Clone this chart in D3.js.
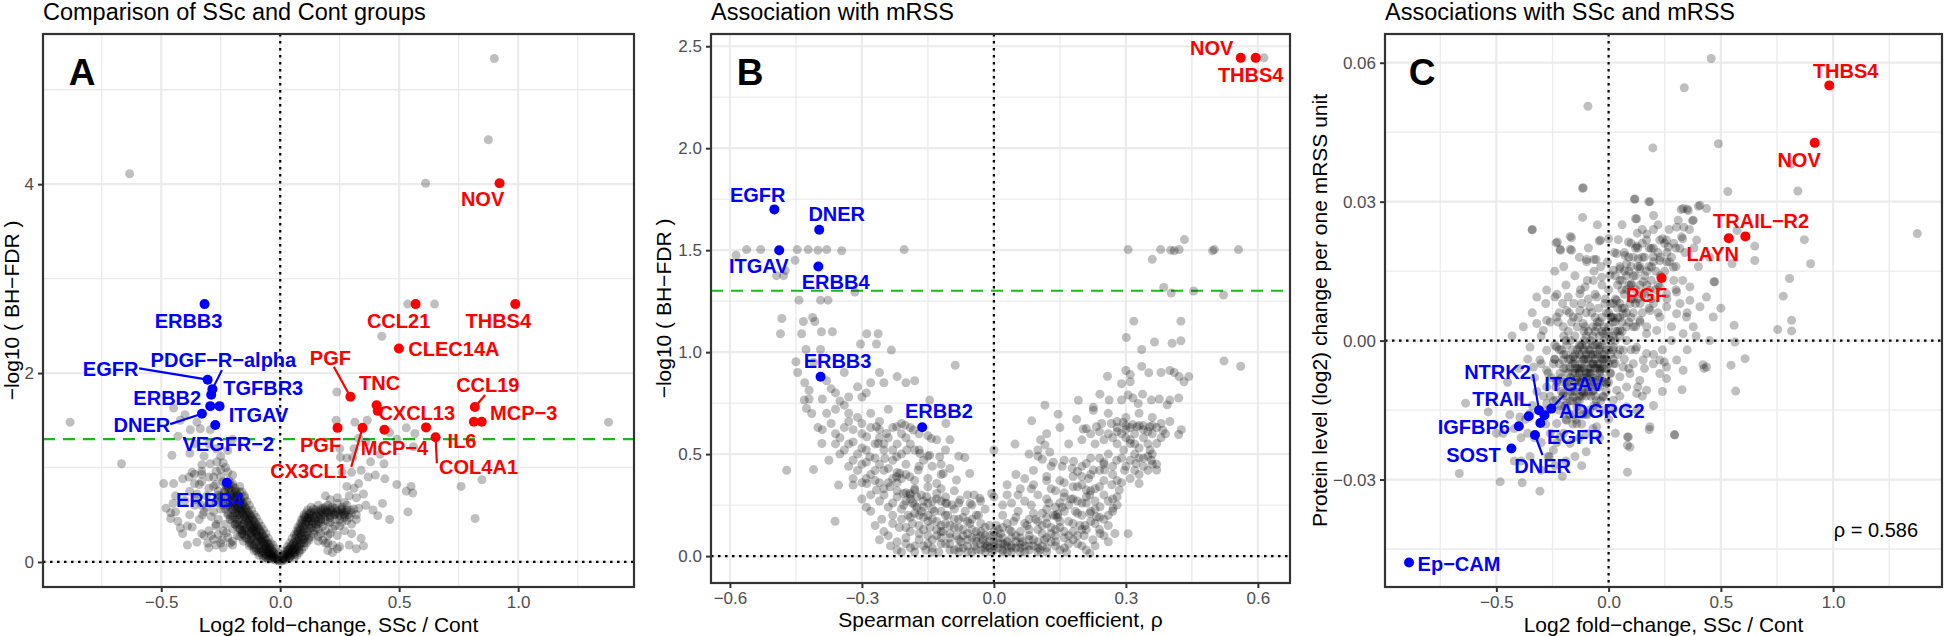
<!DOCTYPE html>
<html><head><meta charset="utf-8">
<script src="https://cdn.jsdelivr.net/npm/d3@7"></script>
<style>body{margin:0;background:#fff;} svg{display:block;font-family:"Liberation Sans",Arial,Helvetica,sans-serif;}</style>
</head><body>
<script>
// ---------------- DATA ----------------
// Panel A: log2 fold-change (x) vs -log10 BH-FDR (y), grey background proteins
const aGrey = [
[0.90,5.33],[0.875,4.47],[-0.633,4.11],[0.611,4.01],[0.536,2.73],[0.649,2.73],[0.427,2.39],[-0.883,1.48],[1.38,1.48],[-0.667,1.04],[0.238,1.80],
[-0.448,1.63],[-0.40,1.56],[-0.42,1.50],[-0.378,1.40],[-0.336,1.41],[-0.294,1.40],[-0.35,1.48],[-0.455,1.13],[-0.329,1.03],[-0.294,1.04],[-0.266,1.06],[-0.37,0.95],[-0.33,0.93],[-0.27,0.96],[-0.23,1.0],[-0.2,0.92],[-0.49,0.83],[-0.448,0.83],[-0.33,0.85],[-0.27,0.82],[-0.24,0.85],[-0.19,0.78],[-0.17,0.74],[-0.15,0.68],[-0.48,0.57],[-0.44,0.53],[-0.46,0.46],[-0.43,0.43],[-0.36,0.6],[-0.32,0.53],[-0.28,0.53],[-0.25,0.56],[-0.22,0.60],[-0.28,0.24],[-0.25,0.20],[-0.21,0.20],[-0.17,0.27],[-0.15,0.33],[-0.39,0.18],[-0.305,0.2],[-0.2,0.18],
[-0.46,0.52],[-0.42,0.36],[-0.357,0.66],[-0.326,0.50],[-0.27,0.18],[-0.244,0.235],[-0.226,0.31],[-0.383,0.90],[-0.36,0.93],[-0.33,0.96],[-0.3,1.25],[-0.27,1.2],[-0.22,1.18],[-0.38,1.15],[-0.32,1.12],[-0.25,1.12],[-0.43,1.33],[-0.36,1.25],[-0.2,1.3],
[-0.01,0.02],[-0.02,0.04],[-0.03,0.06],[-0.04,0.08],[-0.015,0.05],[-0.05,0.1],[-0.025,0.09],[-0.035,0.12],[-0.06,0.14],[-0.045,0.16],[-0.07,0.18],[-0.055,0.2],[-0.08,0.22],[-0.065,0.25],[-0.09,0.26],[-0.1,0.3],[-0.075,0.29],[-0.11,0.33],[-0.085,0.33],[-0.12,0.36],[-0.095,0.37],[-0.13,0.4],[-0.105,0.41],[-0.14,0.44],[-0.115,0.45],[-0.15,0.48],[-0.125,0.49],[-0.16,0.52],[-0.135,0.53],[-0.17,0.56],[-0.145,0.57],[-0.18,0.6],[-0.155,0.61],[-0.19,0.64],[-0.165,0.66],[-0.2,0.68],[-0.175,0.7],[-0.21,0.72],[-0.185,0.75],[-0.22,0.77],[-0.2,0.8],[-0.23,0.82],[-0.215,0.86],[-0.18,0.5],[-0.2,0.55],[-0.21,0.45],[-0.19,0.4],[-0.17,0.35],[-0.16,0.3],[-0.14,0.25],[-0.12,0.2],[-0.1,0.15],[-0.08,0.1],[-0.06,0.06],[-0.22,0.5],[-0.24,0.62],[-0.25,0.7],[-0.23,0.4],[-0.2,0.35],[-0.18,0.28],[-0.155,0.22],[-0.13,0.17],[-0.11,0.12],[-0.09,0.07],[-0.07,0.04],[-0.05,0.03],[-0.12,0.27],[-0.14,0.32],[-0.16,0.38],[-0.175,0.45],[-0.19,0.52],[-0.205,0.6],[-0.22,0.66],[-0.235,0.74],
[-0.26,0.45],[-0.27,0.38],[-0.3,0.33],[-0.32,0.28],[-0.29,0.62],[-0.31,0.7],[-0.26,0.75],[-0.28,0.8],[-0.25,0.9],[-0.3,0.9],[-0.35,0.72],[-0.4,0.65],[-0.38,0.5],[-0.34,0.45],[-0.39,0.38],[-0.41,0.3],[-0.26,0.29],[-0.24,0.33],[-0.22,0.26],[-0.2,0.22],[-0.24,0.15],[-0.3,0.15],[-0.35,0.21],
[0.01,0.02],[0.02,0.04],[0.03,0.06],[0.015,0.05],[0.04,0.09],[0.05,0.12],[0.03,0.1],[0.06,0.15],[0.045,0.16],[0.07,0.19],[0.055,0.2],[0.08,0.23],[0.065,0.25],[0.09,0.27],[0.075,0.3],[0.1,0.31],[0.085,0.34],[0.11,0.35],[0.095,0.38],[0.12,0.39],[0.105,0.42],[0.13,0.43],[0.115,0.46],[0.1,0.48],[0.12,0.5],[0.14,0.47],[0.15,0.5],[0.13,0.53],[0.16,0.53],[0.18,0.52],[0.2,0.52],[0.22,0.53],[0.24,0.54],[0.26,0.53],[0.28,0.55],[0.17,0.49],[0.19,0.48],[0.21,0.49],[0.23,0.5],[0.25,0.49],[0.27,0.5],[0.3,0.52],[0.14,0.56],[0.18,0.57],[0.22,0.58],[0.26,0.58],[0.04,0.04],[0.06,0.08],[0.08,0.12],[0.1,0.2],[0.12,0.25],[0.14,0.3],[0.16,0.35],[0.13,0.36],[0.15,0.4],[0.17,0.42],[0.02,0.08],[0.035,0.13],
[0.16,0.27],[0.18,0.23],[0.2,0.2],[0.22,0.18],[0.24,0.14],[0.19,0.33],[0.21,0.3],[0.23,0.38],[0.26,0.42],[0.28,0.44],[0.3,0.4],[0.32,0.45],[0.34,0.25],[0.33,0.57],[0.36,0.6],[0.39,0.55],[0.41,0.49],[0.43,0.62],[0.46,0.45],[0.49,0.82],[0.55,0.8],[0.557,0.73],[0.537,0.53],[0.53,0.75],[0.76,0.80],[0.848,0.87],[0.819,0.46],[0.32,0.68],[0.35,0.72],[0.31,0.78],[0.28,0.8],[0.33,0.83],[0.37,0.9],[0.3,0.95],[0.34,0.97],[0.26,0.95],[0.4,0.92],[0.44,0.88],[0.253,1.11],[0.28,1.10],[0.305,1.11],[0.42,1.14],[0.436,1.04],[0.38,1.06],[0.235,1.50],[0.314,1.48],[0.366,1.50],[0.566,1.36],[0.56,1.22],[0.49,1.3],[0.46,1.37],[0.53,1.42],[0.33,1.31],[0.36,1.27],[0.25,1.2],[0.31,1.2],[0.27,0.63],[0.24,0.68],[0.21,0.66],[0.19,0.7],[0.29,0.7],[0.2,0.42],[0.24,0.28]
];
// Panel A: densely packed proteins along the two arms of the V
const aGreyCore = [
[-0.005,0.01],[-0.012,0.03],[-0.02,0.02],[-0.028,0.05],[-0.018,0.07],[-0.035,0.09],[-0.042,0.07],[-0.03,0.11],[-0.048,0.13],[-0.055,0.11],[-0.04,0.15],[-0.062,0.17],[-0.05,0.19],[-0.072,0.21],[-0.06,0.23],[-0.085,0.24],[-0.07,0.27],[-0.095,0.28],[-0.08,0.31],[-0.105,0.32],[-0.09,0.35],[-0.115,0.34],[-0.1,0.39],[-0.125,0.38],[-0.11,0.43],[-0.135,0.42],[-0.12,0.47],[-0.145,0.46],[-0.13,0.51],[-0.155,0.5],[-0.14,0.55],[-0.165,0.54],[-0.15,0.59],[-0.175,0.58],[-0.16,0.63],[-0.185,0.62],[-0.17,0.67],[-0.195,0.66],[-0.18,0.71],[-0.205,0.7],[-0.19,0.74],[-0.215,0.78],[-0.2,0.83],[-0.225,0.8],[-0.16,0.45],[-0.17,0.5],[-0.18,0.55],[-0.19,0.58],[-0.15,0.41],[-0.14,0.37],[-0.13,0.33],[-0.12,0.29],[-0.11,0.25],[-0.1,0.21],[-0.09,0.17],[-0.08,0.14],[-0.07,0.1],[-0.06,0.08],[-0.05,0.06],[-0.04,0.04],[-0.03,0.03],[-0.1,0.27],[-0.12,0.31],[-0.11,0.38],[-0.13,0.44],[-0.14,0.49],[-0.16,0.57],[-0.17,0.62],[-0.19,0.69],[-0.2,0.62],[-0.21,0.58],[-0.2,0.49],[-0.19,0.46],[-0.18,0.42],[-0.17,0.39],[-0.16,0.33],[-0.15,0.28],[-0.13,0.23],[-0.11,0.18],[-0.09,0.13],[-0.075,0.12],[-0.065,0.14],[-0.085,0.19],[-0.095,0.22],[-0.12,0.24],[-0.135,0.29],[-0.145,0.35],[-0.155,0.4],[-0.17,0.47],[-0.185,0.52],[-0.195,0.56],[-0.21,0.64],[-0.225,0.7],[-0.23,0.76],
[-0.33,0.6],[-0.31,0.58],[-0.29,0.48],[-0.27,0.63],[-0.26,0.68],[-0.3,0.78],[-0.34,0.82],[-0.28,0.9],[-0.25,0.98],[-0.22,0.95],[-0.24,1.05],[-0.36,0.83],[-0.41,0.88],[-0.38,0.75],[-0.44,0.7],[-0.45,0.62],[-0.37,0.37],[-0.33,0.3],[-0.29,0.28],[-0.27,0.4],
[0.005,0.01],[0.012,0.03],[0.02,0.02],[0.025,0.05],[0.018,0.07],[0.035,0.08],[0.042,0.06],[0.03,0.12],[0.048,0.11],[0.055,0.14],[0.04,0.14],[0.062,0.17],[0.05,0.18],[0.07,0.22],[0.06,0.21],[0.078,0.25],[0.068,0.28],[0.085,0.29],[0.075,0.32],[0.095,0.32],[0.082,0.36],[0.1,0.36],[0.09,0.4],[0.108,0.4],[0.095,0.44],[0.112,0.44],[0.105,0.47],[0.12,0.47],[0.125,0.51],[0.135,0.49],[0.145,0.52],[0.155,0.48],[0.165,0.51],[0.175,0.54],[0.185,0.5],[0.195,0.53],[0.205,0.51],[0.215,0.55],[0.225,0.5],[0.235,0.53],[0.245,0.51],[0.255,0.55],[0.265,0.51],[0.275,0.53],[0.285,0.5],[0.295,0.55],[0.13,0.46],[0.15,0.55],[0.17,0.56],[0.19,0.55],[0.21,0.57],[0.11,0.52],[0.115,0.55],[0.14,0.42],[0.12,0.43],[0.06,0.1],[0.07,0.13],[0.08,0.16],[0.09,0.2],[0.1,0.24],[0.11,0.28],[0.115,0.32],[0.125,0.36],[0.135,0.4],
[0.17,0.3],[0.2,0.28],[0.22,0.35],[0.25,0.38],[0.18,0.38],[0.21,0.42],[0.23,0.45],[0.27,0.47],[0.19,0.2],[0.16,0.22],[0.2,0.12],[0.27,0.33],[0.3,0.3],[0.22,0.1],[0.19,0.44],[0.16,0.43],[0.25,0.16],[0.29,0.18],[0.32,0.14],[0.35,0.17],
[-0.06,0.05],[-0.075,0.07],[-0.09,0.1],[-0.1,0.12],[-0.11,0.15],[-0.12,0.18],[-0.13,0.2],[-0.145,0.25],[-0.16,0.3],[-0.17,0.34],[-0.18,0.37],[-0.19,0.4],[-0.2,0.44],[-0.21,0.48],[-0.22,0.52],[-0.23,0.56],[-0.24,0.6],[-0.25,0.65],[-0.26,0.71],[-0.01,0.1],[-0.02,0.14],[-0.03,0.18],[-0.04,0.2],[-0.05,0.25],[-0.06,0.3],[-0.07,0.34],[-0.08,0.38],[-0.09,0.42],[-0.1,0.47],[-0.11,0.5],[-0.12,0.55],[-0.13,0.6],[-0.14,0.64],[-0.15,0.7],[-0.16,0.74],[-0.17,0.8],
[-0.035,0.05],[-0.045,0.1],[-0.055,0.15],[-0.065,0.19],[-0.075,0.23],[-0.085,0.27],[-0.1,0.33],[-0.11,0.36],[-0.12,0.4],[-0.13,0.46],[-0.145,0.52],[-0.155,0.55],[-0.165,0.6],[-0.175,0.64],[-0.185,0.68],[-0.195,0.72],[-0.205,0.76],[-0.21,0.82],
[0.06,0.05],[0.07,0.07],[0.08,0.1],[0.09,0.13],[0.1,0.16],[0.11,0.2],[0.12,0.23],[0.13,0.27],[0.14,0.33],[0.15,0.36],[0.16,0.4],[0.17,0.45],[0.01,0.08],[0.02,0.12],[0.03,0.16],[0.04,0.2],[0.05,0.25],[0.06,0.29],[0.07,0.33],[0.075,0.37],[0.085,0.41],[0.09,0.45],[0.1,0.5],[0.035,0.04],[0.045,0.07],[0.055,0.1],[0.065,0.13],[0.075,0.16],[0.085,0.2],[0.095,0.24],[0.105,0.28],
[0.13,0.58],[0.16,0.6],[0.2,0.6],[0.24,0.62],[0.28,0.6],[0.31,0.56],[0.17,0.46],[0.21,0.47],[0.25,0.45],[0.29,0.47],[0.32,0.5],[0.15,0.44],[0.26,0.56],[0.23,0.57],[0.19,0.58]
];
const aHiName = ["NOV","CCL21","THBS4","CLEC14A","PGF","TNC","CXCL13","PGF","CX3CL1","MCP\u22124","IL6","COL4A1","CCL19","MCP\u22123","","ERBB3","EGFR","PDGF\u2212R\u2212alpha","TGFBR3","ERBB2","ITGAV","DNER","VEGFR\u22122","ERBB4"];
const aHiX = [0.922,0.569,0.988,0.499,0.295,0.405,0.41,0.241,0.346,0.438,0.613,0.653,0.818,0.847,0.814,-0.318,-0.305,-0.285,-0.29,-0.294,-0.255,-0.329,-0.273,-0.224];
const aHiY = [4.01,2.73,2.73,2.26,1.75,1.66,1.60,1.42,1.42,1.40,1.425,1.32,1.64,1.485,1.485,2.73,1.93,1.83,1.77,1.65,1.65,1.57,1.45,0.84];
const aHiDir = ["up","up","up","up","up","up","up","up","up","up","up","up","up","up","up","down","down","down","down","down","down","down","down","down"];

// Panel B: Spearman rho (x) vs -log10 BH-FDR (y)
const bGrey = [
[-0.562,1.503],[-0.53,1.503],[-0.447,1.503],[-0.422,1.503],[-0.38,1.503],[-0.346,1.497],[-0.204,1.503],[-0.586,1.475],[-0.452,1.45],[-0.494,1.375],[-0.478,1.375],[-0.474,1.40],[-0.443,1.255],[-0.394,1.255],[-0.377,1.255],[-0.316,1.295],[-0.482,1.165],[-0.412,1.17],[-0.433,1.15],[-0.407,1.15],[-0.485,1.09],[-0.437,1.09],[-0.392,1.10],[-0.367,1.10],[-0.289,1.09],[-0.303,1.04],[-0.427,1.013],[-0.394,1.013],[-0.45,0.953],[-0.446,0.90],[-0.40,1.5],
[0.305,1.503],[0.36,1.455],[0.379,1.503],[0.402,1.50],[0.41,1.497],[0.421,1.503],[0.433,1.552],[0.497,1.497],[0.501,1.503],[0.556,1.503],[0.386,1.317],[0.403,1.29],[0.454,1.30],[0.522,1.28],[0.318,1.152],[0.425,1.152],[0.301,1.072],[0.365,1.05],[0.405,1.043],[0.425,1.056],[0.336,1.013],[0.523,0.957],[0.561,0.931],[0.614,2.443],
[-0.42,0.813],[-0.431,0.765],[-0.426,0.724],[-0.414,0.699],[-0.40,0.63],[-0.391,0.552],[-0.375,0.47],[-0.471,0.421],[-0.41,0.424],[-0.361,0.171],[-0.353,0.348],[-0.32,0.348],[-0.34,0.9],[-0.37,0.82],[-0.35,0.76],[-0.33,0.78],[-0.31,0.83],[-0.3,0.78],[-0.39,0.77],[-0.36,0.72],[-0.33,0.7],[-0.3,0.65],[-0.34,0.63],[-0.32,0.62],[-0.36,0.6],[-0.28,0.63],[-0.26,0.62],[-0.24,0.58],[-0.36,0.55],[-0.33,0.55],[-0.3,0.53],[-0.27,0.55],[-0.25,0.52],[-0.35,0.5],[-0.32,0.47],[-0.29,0.46],[-0.26,0.45],[-0.23,0.47],[-0.31,0.42],[-0.28,0.4],[-0.25,0.42],[-0.22,0.41],[-0.27,0.37],[-0.24,0.36],[-0.21,0.38],[-0.3,0.36],[-0.32,0.38],[-0.267,1.04],[-0.233,1.01],[-0.263,1.09],[-0.26,0.9],[-0.22,0.88],[-0.25,0.85],[-0.2,0.85],[-0.18,0.86],[-0.28,0.85],[-0.29,0.8],[-0.24,0.72],[-0.21,0.65],[-0.19,0.63],[-0.17,0.6],[-0.2,0.58],[-0.22,0.55],[-0.18,0.52],[-0.15,0.59],[-0.13,0.57],[-0.146,0.765],[-0.109,0.65],[-0.1,0.57],[-0.142,0.576],[-0.066,0.483],[-0.088,0.936],[-0.11,0.52],[-0.08,0.49],[-0.15,0.49],[-0.12,0.45],[-0.17,0.44],[-0.2,0.45],[0.0,0.52],
[-0.289,0.585],[-0.267,0.634],[-0.244,0.601],[-0.221,0.634],[-0.202,0.642],[-0.183,0.618],[-0.263,0.552],[-0.282,0.487],[-0.248,0.479],[-0.221,0.487],[-0.198,0.52],[-0.168,0.503],[-0.146,0.495],[-0.123,0.487],[-0.214,0.405],[-0.191,0.389],[-0.172,0.422],[-0.15,0.381],[-0.13,0.356],[-0.115,0.405],[-0.085,0.373],[-0.055,0.405],[-0.289,0.356],[-0.267,0.324],[-0.236,0.34],[-0.206,0.307],[-0.18,0.324],[-0.153,0.291],[-0.13,0.307],[-0.107,0.258],[-0.077,0.275],[-0.054,0.258],[-0.032,0.283],[-0.005,0.307],[-0.191,0.307],[-0.221,0.389],
[0.258,0.882],[0.30,0.91],[0.31,0.89],[0.31,0.855],[0.29,0.845],[0.336,0.93],[0.352,0.899],[0.38,0.90],[0.40,0.91],[0.41,0.90],[0.421,0.88],[0.432,0.855],[0.443,0.88],
[0.241,0.794],[0.262,0.765],[0.29,0.765],[0.305,0.79],[0.316,0.775],[0.328,0.748],[0.338,0.794],[0.358,0.765],[0.376,0.77],[0.394,0.742],[0.40,0.765],[0.42,0.775],[0.226,0.73],[0.226,0.715],
[0.245,0.65],[0.267,0.65],[0.294,0.655],[0.325,0.634],[0.354,0.634],[0.384,0.617],[0.42,0.596],[0.426,0.62],[0.21,0.625],[0.233,0.634],[0.28,0.61],[0.31,0.552],[0.37,0.552],[0.33,0.53],[0.295,0.52],[0.355,0.52],[0.30,0.64],[0.315,0.645],[0.34,0.64],
[0.21,0.454],[0.226,0.422],[0.252,0.422],[0.279,0.47],[0.297,0.42],[0.323,0.454],[0.358,0.47],[0.37,0.422],[0.33,0.356],[0.268,0.35],[0.285,0.324],[0.24,0.34],[0.21,0.324],[0.218,0.30],
[0.241,0.242],[0.271,0.235],[0.218,0.21],[0.233,0.193],[0.241,0.111],[0.275,0.111],[0.305,0.11],[0.207,0.15],[0.218,0.013],
[0.048,0.549],[0.086,0.663],[0.116,0.74],[0.146,0.696],[0.192,0.764],[0.188,0.67],[0.203,0.623],[0.106,0.57],[0.116,0.545],[0.127,0.51],[0.1,0.49],[0.11,0.475],[0.135,0.46],[0.155,0.44],[0.181,0.465],[0.178,0.43],[0.2,0.39],[0.19,0.415],[0.215,0.38],[0.16,0.36],[0.18,0.34],[0.12,0.39],[0.09,0.42],[0.07,0.38],[0.055,0.3],[0.085,0.33],[0.14,0.32],[0.16,0.29],[0.19,0.27],[0.21,0.26],[0.12,0.28],[0.23,0.27],[0.25,0.3],[0.26,0.27],[0.28,0.29],[0.29,0.36],[0.31,0.38],[0.33,0.4],[0.35,0.42],[0.37,0.45],[0.34,0.48],[0.36,0.5],[0.32,0.5],[0.28,0.55],[0.25,0.57],[0.23,0.55],[0.26,0.5],[0.24,0.48],[0.29,0.48],[0.27,0.44],[0.31,0.57],[0.34,0.58],[0.36,0.6],[0.38,0.65],[0.4,0.66],[0.24,0.61],[0.26,0.6],[0.28,0.66]
];
// Panel B: dense bottom of the U and the lower arms
const bGreyCore = [
[-0.30,0.28],[-0.28,0.22],[-0.26,0.27],[-0.255,0.18],[-0.25,0.12],[-0.24,0.24],[-0.235,0.05],[-0.23,0.2],[-0.22,0.29],[-0.215,0.14],[-0.21,0.02],[-0.205,0.25],[-0.2,0.31],[-0.2,0.09],[-0.195,0.2],[-0.19,0.28],[-0.185,0.16],[-0.18,0.05],[-0.175,0.24],[-0.17,0.11],[-0.165,0.3],[-0.16,0.19],[-0.155,0.03],[-0.15,0.26],[-0.145,0.14],[-0.14,0.08],[-0.135,0.22],[-0.13,0.17],[-0.125,0.02],[-0.12,0.27],[-0.115,0.12],[-0.11,0.06],[-0.105,0.2],[-0.1,0.15],[-0.095,0.25],[-0.09,0.03],[-0.085,0.1],[-0.08,0.18],[-0.075,0.07],[-0.07,0.13],[-0.065,0.22],[-0.06,0.02],[-0.055,0.16],[-0.05,0.09],[-0.045,0.05],[-0.04,0.12],[-0.035,0.2],[-0.03,0.03],[-0.025,0.08],[-0.02,0.14],[-0.015,0.05],[-0.01,0.1],[-0.005,0.02],[0.0,0.07],[0.005,0.15],[0.01,0.04],[0.015,0.11],[0.02,0.2],[0.025,0.06],[0.03,0.02],[0.035,0.13],[0.04,0.09],[0.045,0.17],[0.05,0.04],[0.055,0.22],[0.06,0.12],[0.065,0.07],[0.07,0.02],[0.075,0.15],[0.08,0.1],[0.085,0.25],[0.09,0.05],[0.095,0.18],[0.1,0.13],[0.105,0.03],[0.11,0.21],[0.115,0.08],[0.12,0.16],[0.125,0.26],[0.13,0.11],[0.135,0.2],[0.14,0.05],[0.145,0.19],[0.15,0.14],[0.155,0.24],[0.16,0.09],[0.165,0.02],[0.17,0.17],[0.175,0.28],[0.18,0.12],[0.185,0.22],[0.19,0.06],[0.195,0.15],[0.2,0.2],[0.205,0.1],[0.21,0.03],[0.22,0.17],[0.225,0.08],[0.23,0.23],[0.24,0.13],[0.25,0.18],[0.26,0.07],[0.27,0.22],
[-0.19,0.3],[-0.185,0.26],[-0.175,0.29],[-0.165,0.22],[-0.15,0.2],[-0.14,0.27],[-0.12,0.22],[-0.1,0.09],[-0.08,0.04],[-0.06,0.08],[-0.04,0.03],[-0.03,0.16],[-0.02,0.06],[-0.01,0.04],[0.0,0.12],[0.01,0.09],[0.02,0.03],[0.03,0.07],[0.04,0.05],[0.06,0.04],[0.08,0.05],[0.1,0.07],[0.12,0.04],[0.14,0.2],[0.145,0.205],[-0.05,0.25],[-0.02,0.23],[0.02,0.25],[0.04,0.26],[-0.08,0.26],[-0.11,0.29],[-0.045,0.3],[0.0,0.29],[0.07,0.27],[0.1,0.3],[0.13,0.33],[0.16,0.31],[0.19,0.34],[0.22,0.32],[0.25,0.37],
[-0.24,0.1],[-0.23,0.16],[-0.22,0.07],[-0.21,0.23],[-0.2,0.14],[-0.19,0.04],[-0.19,0.19],[-0.18,0.25],[-0.17,0.08],[-0.17,0.2],[-0.16,0.13],[-0.16,0.27],[-0.15,0.06],[-0.15,0.17],[-0.14,0.23],[-0.14,0.02],[-0.13,0.1],[-0.13,0.28],[-0.12,0.15],[-0.12,0.06],[-0.11,0.2],[-0.11,0.26],[-0.1,0.03],[-0.1,0.11],[-0.09,0.18],[-0.09,0.23],[-0.08,0.08],[-0.08,0.14],[-0.07,0.04],[-0.07,0.19],[-0.06,0.11],[-0.06,0.17],[-0.05,0.02],[-0.05,0.13],[-0.04,0.07],[-0.04,0.2],[-0.03,0.1],[-0.03,0.06],[-0.02,0.02],[-0.02,0.1],[-0.01,0.07],[-0.01,0.15],[0.0,0.03],[0.0,0.1],[0.01,0.06],[0.01,0.13],[0.02,0.02],[0.02,0.09],[0.03,0.05],[0.03,0.16],[0.04,0.02],[0.04,0.12],[0.05,0.07],[0.05,0.19],[0.06,0.02],[0.06,0.09],[0.07,0.05],[0.07,0.16],[0.08,0.03],[0.08,0.13],[0.09,0.08],[0.09,0.21],[0.1,0.02],[0.1,0.17],[0.11,0.05],[0.11,0.11],[0.12,0.02],[0.12,0.19],[0.13,0.07],[0.13,0.14],[0.14,0.1],[0.14,0.24],[0.15,0.03],[0.15,0.17],[0.16,0.12],[0.16,0.22],[0.17,0.06],[0.17,0.25],[0.18,0.16],[0.19,0.1],[0.19,0.21],[0.2,0.26],[0.21,0.13],[0.22,0.22],[0.23,0.05],[0.24,0.19],[0.25,0.1],[0.26,0.15],[0.27,0.28],[-0.26,0.08],[-0.27,0.15],[-0.28,0.3],[-0.29,0.24],[-0.25,0.33],[-0.22,0.36],[-0.18,0.33],[-0.15,0.34],[-0.12,0.33],[-0.09,0.32],[-0.06,0.3],[-0.03,0.27],[0.03,0.3],[0.06,0.33],[0.09,0.35],[0.12,0.37],[0.15,0.37],[0.18,0.39],[0.2,0.44],[0.22,0.48],
[-0.34,0.52],[-0.31,0.5],[-0.29,0.52],[-0.27,0.48],[-0.25,0.55],[-0.23,0.52],[-0.21,0.5],[-0.26,0.58],[-0.3,0.6],[-0.33,0.66],[-0.31,0.68],[-0.28,0.7],[-0.26,0.66],[-0.23,0.63],[-0.21,0.6],[-0.19,0.55],[-0.17,0.52],[-0.16,0.47],[-0.14,0.44],[-0.12,0.4],[-0.1,0.43],[-0.24,0.43],[-0.27,0.42],[-0.3,0.45],[-0.33,0.44],[-0.29,0.38],[-0.26,0.36],[-0.23,0.38],[-0.2,0.4],[-0.18,0.37],[-0.22,0.32],[-0.25,0.3],[-0.32,0.56],[-0.35,0.58],[-0.37,0.65],[-0.38,0.7],[-0.34,0.74],[-0.36,0.8],[-0.38,0.86],[-0.41,0.95],[-0.43,0.85],[-0.42,0.77],[-0.39,0.62],
[0.2,0.35],[0.22,0.4],[0.24,0.42],[0.25,0.45],[0.27,0.4],[0.28,0.37],[0.3,0.44],[0.31,0.47],[0.32,0.42],[0.33,0.48],[0.34,0.44],[0.35,0.49],[0.36,0.45],[0.29,0.6],[0.3,0.62],[0.31,0.63],[0.32,0.6],[0.33,0.64],[0.34,0.62],[0.35,0.61],[0.36,0.64],[0.37,0.63],[0.28,0.63],[0.27,0.58],[0.3,0.58],[0.32,0.55],[0.35,0.55],[0.38,0.58],[0.39,0.6],[0.3,0.68],[0.33,0.7],[0.36,0.68],[0.26,0.7],[0.22,0.6],[0.25,0.46],[0.23,0.33],[0.21,0.29],[0.15,0.26],[0.12,0.23],[0.18,0.28],[0.1,0.52],[0.08,0.5],[0.05,0.4],[0.03,0.35],[0.13,0.44],[0.16,0.47],[0.12,0.6],[0.15,0.63],[0.17,0.55],[0.2,0.57],
[-0.22,0.03],[-0.2,0.06],[-0.18,0.02],[-0.16,0.05],[-0.14,0.04],[-0.12,0.09],[-0.1,0.06],[-0.08,0.02],[-0.06,0.05],[-0.04,0.09],[-0.02,0.04],[0.0,0.05],[0.02,0.06],[0.04,0.04],[0.06,0.06],[0.08,0.08],[0.1,0.04],[0.12,0.09],[0.14,0.07],[0.16,0.04],[0.18,0.08],[0.2,0.05],[-0.03,0.12],[-0.05,0.18],[-0.07,0.1],[-0.09,0.14],[-0.11,0.16],[-0.13,0.13],[-0.15,0.1],[-0.17,0.15],[-0.19,0.12],[-0.21,0.18],[-0.23,0.26],[-0.2,0.27],[-0.18,0.21],[-0.16,0.24],[-0.14,0.18],[-0.12,0.12],[0.02,0.14],[0.05,0.1],[0.08,0.18],[0.11,0.15],[0.14,0.13],[0.17,0.1],[0.2,0.13],[0.23,0.16],[0.26,0.2],[0.28,0.25]
];
const bHiName = ["NOV","THBS4","EGFR","DNER","ITGAV","ERBB4","ERBB3","ERBB2"];
const bHiX = [0.561,0.595,-0.499,-0.397,-0.488,-0.399,-0.394,-0.163];
const bHiY = [2.443,2.443,1.70,1.60,1.50,1.42,0.879,0.632];
const bHiDir = ["up","up","down","down","down","down","down","down"];

// Panel C: log2 fold-change (x) vs protein change per mRSS unit (y)
const cGrey = [
[0.457,0.0609],[0.337,0.0546],[-0.092,0.0506],[0.489,0.0425],[0.197,0.0416],[0.812,0.0381],[0.531,0.0322],[0.843,0.0323],[-0.116,0.0329],[0.115,0.0305],[0.179,0.0300],[-0.116,0.0266],[0.12,0.0263],[-0.341,0.0239],[1.375,0.0231],[-0.171,0.0225],[-0.234,0.0211],[-0.216,0.0197],[-0.171,0.0197],[-0.042,0.0215],[-0.065,0.0175],[-0.098,0.0175],[0.872,0.0218],[0.9,0.0166],[0.651,0.0173],[0.55,0.0166],[0.806,0.0134],[0.778,0.0096],[0.469,0.0127],[0.4,0.029],[0.35,0.0284],[0.323,0.0283],[0.374,0.0259],[0.572,0.0238],[0.651,0.0204],
[0.559,0.0033],[0.563,-0.0003],[0.608,-0.0039],[0.545,-0.0053],[0.566,-0.0109],[0.815,0.0044],[0.815,0.0021],[0.753,0.0024],[0.425,-0.006],[0.42,-0.0052],[0.327,-0.0106],[0.293,-0.0203],[0.181,-0.0192],[0.084,-0.0208],[0.084,-0.0226],[0.084,-0.0284],[0.258,-0.0082],[0.248,-0.0046],[-0.665,-0.0287],[-0.483,-0.0305],[-0.385,-0.0307],[-0.306,-0.0325],[-0.206,-0.0293],[-0.637,-0.0135],[-0.536,-0.0154],[-0.264,-0.0251],
[-0.113,0.033],[0.117,0.0306],[0.184,0.030],[0.125,0.0263],[-0.34,0.024],[-0.228,0.0213],[-0.165,0.0222],[-0.214,0.0195],[-0.165,0.0195],[0.128,0.0232],[0.043,0.0218],[0.088,0.0213],[0.125,0.0204],[0.169,0.0217],[0.19,0.0199],[0.228,0.0217],[0.258,0.0217],[0.266,0.0202],[0.303,0.0245],[0.325,0.0224],[0.335,0.0245],[0.355,0.0281],[0.332,0.0285],[0.377,0.026],[0.407,0.0292],[0.436,0.0285],[0.392,0.0217],[0.317,0.0199],[-0.098,0.017],[-0.056,0.0175],[-0.036,0.0217],[0.036,0.0188],[0.073,0.0184],[0.08,0.0166],[0.132,0.0177],[0.199,0.0181],[0.228,0.0173],[0.258,0.017],[0.288,0.0159],[0.191,0.0159],[0.139,0.0155],[0.05,0.0155],[0.021,0.0152],
[-0.32,0.0094],[-0.276,0.0109],[-0.239,0.0094],[-0.18,0.0094],[-0.128,0.0101],[-0.105,0.0116],[-0.068,0.013],[-0.031,0.0137],[0.006,0.0141],[0.05,0.013],[0.102,0.0123],[0.154,0.0127],[0.184,0.0109],[0.228,0.0116],[0.258,0.0101],[0.303,0.0105],[0.362,0.0116],[0.362,0.0087],[0.407,0.0073],[0.466,0.0051],[0.473,0.0127],[0.436,0.0094],[0.318,0.008],[0.347,0.0051],[0.303,0.0058],[0.258,0.0073],[0.228,0.0051],[0.184,0.0065],[0.139,0.0044],[0.095,0.008],[0.065,0.0058],[0.036,0.0087],[0.013,0.0051],[-0.016,0.008],[-0.053,0.0094],[-0.083,0.0073],[-0.128,0.0065],[-0.157,0.0051],[-0.187,0.0065],[-0.231,0.0051],[-0.276,0.0044],[-0.32,0.0037],[-0.38,0.003],[-0.291,0.0022],[-0.202,0.003],[-0.113,0.0037],[-0.053,0.003],[-0.024,0.0015],[0.05,0.0022],[0.11,0.003],[0.169,0.0015],[0.214,0.0022],[0.28,0.003],[0.332,0.0015],[0.377,0.003],
[-0.35,-0.0014],[-0.276,-0.0021],[-0.231,-0.0014],[-0.187,-0.001],[-0.128,-0.0014],[-0.083,-0.0021],[-0.039,-0.0014],[0.021,-0.0014],[0.065,-0.0021],[0.125,-0.0014],[0.169,-0.0028],[0.228,-0.0042],[0.258,-0.0057],[0.303,-0.0042],[0.332,-0.0064],[0.436,-0.0057],[0.228,-0.0071],[0.199,-0.005],[0.154,-0.0042],[0.11,-0.005],[0.065,-0.0057],[0.021,-0.005],[-0.024,-0.0042],[-0.068,-0.005],[-0.113,-0.0042],[-0.157,-0.0035],[-0.202,-0.0042],[-0.246,-0.005],[-0.306,-0.0042],[-0.335,-0.0057],[-0.276,-0.0064],[-0.217,-0.0071],[-0.172,-0.0057],[-0.128,-0.0064],[-0.083,-0.0071],[-0.039,-0.0064],[0.006,-0.0071],[0.05,-0.0078],[0.095,-0.0071],[0.139,-0.0086],[0.169,-0.0107],[0.125,-0.0114],[0.08,-0.01],[0.036,-0.0107],[-0.009,-0.0093],[-0.053,-0.0086],[-0.098,-0.0078],[-0.142,-0.0086],[-0.187,-0.0093],[-0.231,-0.0086],[-0.276,-0.01],[-0.202,-0.0114],[-0.157,-0.0122],[-0.113,-0.0114],[-0.068,-0.0107],[-0.024,-0.0122],[0.021,-0.0129],[0.08,-0.0143],[0.125,-0.015],[0.184,-0.0186],[0.088,-0.0208],[0.095,-0.023],[-0.053,-0.0143],[-0.098,-0.0158],[-0.142,-0.0143],[-0.187,-0.0136],[-0.231,-0.0129],[-0.276,-0.0136],[-0.306,-0.015],[-0.35,-0.0158],[-0.395,-0.0165],[-0.231,-0.0179],[-0.187,-0.0172],[-0.142,-0.0179],[-0.053,-0.0186],[-0.098,-0.0201],[-0.217,-0.0208],[-0.172,-0.0222],[-0.246,-0.0237],[0.295,-0.0204]
];
// Panel C: dense core of the cloud around the origin
const cGreyCore = [
[-0.19,-0.006],[-0.17,-0.004],[-0.15,-0.007],[-0.13,-0.003],[-0.11,-0.006],[-0.09,-0.002],[-0.07,-0.005],[-0.05,-0.001],[-0.03,-0.004],[-0.01,-0.002],[0.01,-0.003],[-0.18,-0.009],[-0.16,-0.002],[-0.14,-0.01],[-0.12,-0.008],[-0.1,-0.001],[-0.08,-0.009],[-0.06,-0.003],[-0.04,-0.007],[-0.02,0.0],[0.0,-0.005],[-0.2,-0.003],[-0.15,0.001],[-0.11,0.002],[-0.07,0.001],[-0.03,0.002],[0.0,0.003],[-0.17,-0.011],[-0.13,-0.012],[-0.09,-0.011],[-0.05,-0.01],[-0.01,-0.011],[-0.21,-0.008],[-0.12,-0.005],[-0.08,-0.006],[-0.04,-0.002],[0.02,0.001],[0.03,0.004],[0.06,0.002],[0.08,0.006],[0.1,0.009],[0.12,0.011],[0.14,0.008],[0.06,0.011],[0.09,0.015],[0.11,0.018],[0.16,0.014],[0.02,0.008],[0.04,0.012],[-0.01,0.006],[-0.06,0.005],[-0.1,0.006],[-0.14,0.003],[-0.24,-0.001],[-0.26,-0.012],[-0.22,-0.015],[-0.19,-0.017],[-0.28,-0.018],[-0.33,-0.021],[-0.36,-0.02],[-0.4,-0.012],[-0.45,-0.009],[-0.5,-0.02],[-0.42,-0.026],[-0.3,-0.028],[-0.24,-0.027],[-0.15,-0.025],[-0.12,-0.018],[0.0,-0.017],[0.03,-0.02],[0.15,-0.012],[0.2,-0.014],[0.24,-0.011],[0.35,-0.002],[0.39,0.001],[0.45,0.0],[0.5,0.007],[0.4,0.016],[0.45,0.018],[0.3,0.02],[0.2,0.024],[0.06,0.025],[0.0,0.022],[-0.05,0.025],[0.15,0.006],[0.17,0.003],[0.2,0.008],[0.07,-0.004],[0.1,-0.002],
[-0.24,-0.004],[-0.23,-0.009],[-0.22,-0.002],[-0.21,-0.011],[-0.2,-0.006],[-0.2,0.001],[-0.19,-0.012],[-0.19,-0.003],[-0.18,-0.007],[-0.18,0.002],[-0.17,-0.013],[-0.17,-0.008],[-0.16,-0.005],[-0.16,-0.011],[-0.15,-0.003],[-0.15,-0.009],[-0.14,-0.006],[-0.14,-0.013],[-0.13,-0.001],[-0.13,-0.009],[-0.12,-0.011],[-0.12,-0.003],[-0.11,-0.008],[-0.11,0.0],[-0.1,-0.004],[-0.1,-0.012],[-0.09,-0.007],[-0.09,0.002],[-0.08,-0.003],[-0.08,-0.012],[-0.07,-0.008],[-0.07,0.003],[-0.06,-0.001],[-0.06,-0.009],[-0.05,-0.005],[-0.05,0.004],[-0.04,-0.01],[-0.04,0.001],[-0.03,-0.006],[-0.03,0.005],[-0.02,-0.003],[-0.02,-0.009],[-0.01,0.002],[-0.01,-0.006],[0.0,-0.009],[0.0,0.001],[0.01,0.005],[0.01,-0.007],[0.02,-0.002],[0.02,0.004],[0.03,0.0],[0.03,-0.005],[0.04,0.007],[0.04,0.002],[0.05,0.005],[0.05,-0.002],[-0.185,-0.015],[-0.155,-0.016],[-0.125,-0.015],[-0.095,-0.016],[-0.065,-0.014],[-0.035,-0.013],[-0.215,-0.014],[-0.245,-0.013],[-0.165,0.004],[-0.135,0.005],[-0.105,0.003],[-0.075,0.006],[-0.045,0.007],[-0.015,0.009],[-0.12,0.008],[-0.09,0.009],[-0.06,0.01],[-0.03,0.012],[0.0,0.011],
[0.06,0.007],[0.07,0.01],[0.08,0.003],[0.09,0.012],[0.1,0.005],[0.11,0.014],[0.12,0.008],[0.13,0.016],[0.14,0.012],[0.15,0.018],[0.16,0.01],[0.17,0.015],[0.18,0.02],[0.19,0.013],[0.2,0.017],[0.21,0.011],[0.22,0.019],[0.23,0.014],[0.24,0.022],[0.25,0.015],[0.26,0.019],[0.27,0.024],[0.28,0.018],[0.29,0.021],[0.3,0.016],[0.31,0.026],[0.33,0.022],[0.34,0.019],[0.36,0.024],[0.38,0.02],[0.07,0.019],[0.1,0.021],[0.12,0.02],[0.15,0.024],[0.17,0.023],[0.2,0.027],[0.22,0.025],[0.05,0.016],[0.03,0.014],[0.08,0.014],[0.11,0.009],[0.14,0.004],[0.18,0.007],[0.22,0.006],[0.26,0.009],[0.3,0.011],[0.33,0.013],[0.35,0.006],[0.12,-0.002],[0.16,-0.006],[0.2,-0.003],[0.24,-0.002],[0.28,0.0],[0.09,-0.006],[0.13,-0.01],[0.05,-0.012],[0.02,-0.015],[-0.02,-0.015],
[-0.27,-0.015],[-0.29,-0.012],[-0.32,-0.011],[-0.34,-0.014],[-0.37,-0.017],[-0.39,-0.021],[-0.42,-0.019],[-0.44,-0.016],[-0.47,-0.02],[-0.3,-0.022],[-0.26,-0.02],[-0.23,-0.022],[-0.2,-0.02],[-0.16,-0.018],[-0.13,-0.021],[-0.1,-0.024],[-0.07,-0.019],[-0.04,-0.021],[-0.35,-0.025],[-0.39,-0.026],[-0.27,-0.025],[-0.19,-0.026],[-0.12,-0.027],[-0.24,-0.004],[-0.27,-0.007],[-0.3,-0.005],[-0.33,-0.008],[-0.36,-0.004],[-0.4,-0.006],[-0.3,0.001],[-0.26,0.004],[-0.22,0.006],[-0.43,0.001],[-0.34,0.006],[-0.28,0.008],[-0.23,0.01],[-0.19,0.012],[-0.15,0.014],[-0.24,0.015],[-0.2,0.016],[-0.13,0.018],[-0.09,0.02],
[-0.22,-0.005],[-0.21,-0.002],[-0.2,-0.009],[-0.19,0.0],[-0.18,-0.004],[-0.17,-0.01],[-0.17,0.0],[-0.16,-0.007],[-0.16,-0.013],[-0.15,-0.005],[-0.15,-0.011],[-0.14,-0.002],[-0.14,-0.008],[-0.13,-0.006],[-0.13,-0.013],[-0.12,-0.001],[-0.12,-0.009],[-0.11,-0.004],[-0.11,-0.011],[-0.1,-0.007],[-0.1,0.001],[-0.09,-0.004],[-0.09,-0.01],[-0.08,0.0],[-0.08,-0.007],[-0.07,-0.003],[-0.07,-0.011],[-0.06,-0.006],[-0.06,0.002],[-0.05,-0.008],[-0.05,-0.003],[-0.04,-0.005],[-0.04,0.004],[-0.03,-0.008],[-0.03,-0.001],[-0.02,-0.006],[-0.02,0.003],[-0.01,-0.004],[-0.01,-0.009],[0.0,-0.002],[0.0,0.006],[0.01,0.0],[0.01,0.008],[0.02,0.005],[0.02,-0.004],[0.03,0.002],[0.03,0.009],[0.04,0.005],[0.04,-0.003],[0.05,0.008],[0.05,0.001],[0.06,0.004],[0.06,0.013],[0.07,0.007],[0.07,0.015],[0.08,0.011],[0.08,0.0],[0.09,0.004],[0.09,0.018],[0.1,0.012],[0.1,0.016],[0.11,0.006],[0.12,0.014],[0.12,0.003],[0.13,0.009],[0.13,0.02],[0.14,0.016],[0.15,0.01],[0.15,0.021],[0.16,0.018],[0.17,0.012],[0.18,0.016],[0.19,0.009],[0.2,0.02],[0.21,0.015],[0.22,0.012],[0.23,0.018],[0.25,0.021],[0.27,0.017],[0.29,0.013],
[-0.195,-0.014],[-0.175,-0.016],[-0.145,-0.017],[-0.115,-0.016],[-0.085,-0.015],[-0.055,-0.013],[-0.025,-0.012],[-0.205,-0.012],[-0.235,-0.01],[-0.255,-0.008],[-0.225,0.004],[-0.205,0.008],[-0.175,0.006],[-0.155,0.008],[-0.125,0.011],[-0.095,0.013],[-0.065,0.015],[-0.035,0.016],[-0.005,0.017],[0.025,0.019],
[-0.15,-0.004],[-0.13,-0.007],[-0.11,-0.002],[-0.09,-0.006],[-0.07,-0.001],[-0.05,-0.006],[-0.03,-0.003],[-0.15,-0.006],[-0.12,-0.006],[-0.1,-0.003],[-0.08,-0.005],[-0.06,-0.004],[-0.04,-0.006],[-0.02,-0.004],[-0.1,-0.009],[-0.12,-0.012],[-0.08,-0.009],[-0.06,-0.012]
];
const cHiName = ["THBS4","NOV","TRAIL\u2212R2","LAYN","PGF","Ep\u2212CAM","NTRK2","ITGAV","TRAIL","ADGRG2","IGFBP6","EGFR","DNER","SOST"];
const cHiX = [0.983,0.918,0.609,0.535,0.236,-0.889,-0.31,-0.255,-0.356,-0.286,-0.40,-0.304,-0.328,-0.433];
const cHiY = [0.0551,0.0427,0.0225,0.0221,0.0135,-0.0479,-0.01505,-0.01468,-0.01634,-0.0161,-0.0185,-0.0178,-0.0204,-0.0233];
const cHiDir = ["up","up","up","up","up","down","down","down","down","down","down","down","down","down"];
const cRho = "\u03C1 = 0.586";

// tick values / labels
const logfcTicks = [-0.5,0,0.5,1.0];
const logfcTickLabels = ["\u22120.5","0.0","0.5","1.0"];
const aYTicks = [0,2,4];
const aYTickLabels = ["0","2","4"];
const rhoTicks = [-0.6,-0.3,0,0.3,0.6];
const rhoTickLabels = ["\u22120.6","\u22120.3","0.0","0.3","0.6"];
const bYTicks = [0,0.5,1,1.5,2,2.5];
const bYTickLabels = ["0.0","0.5","1.0","1.5","2.0","2.5"];
const cYTicks = [-0.03,0,0.03,0.06];
const cYTickLabels = ["\u22120.03","0.00","0.03","0.06"];

// ---------------- LAYOUT (positions / styles) ----------------
const W = 1952, H = 636;
const COL = {up:"#FF0000", down:"#0000FF"};
// label offsets in px relative to point: [dx, dy, segDx, segDy]
const aLab = [[-17,16],[-17,17],[-17,17],[55,0],[-20,-39,-16.6,-30],[3,-22],[39,2],[-17,17],[-54,43,-11.3,39],[10,18],[36,13],[43,30,1.3,26],[13,-22,10.3,-12],[42,-9],null,
              [-16,17],[-97,-11,-68.5,-11.3],[11,-29,9.5,-19],[52,-7],[-43,-8.5],[39,9],[-60,11,-31.7,10.4],[13,19],[-17,17]];
const bLab = [[-29,-10],[-5,16.5],[-16.6,-15],[17.5,-15.6],[-20.5,16],[17.3,15.4],[17,-15.7],[16.7,-16]];
const cLab = [[16.4,-15],[-15.6,16.5],[15.8,-15.3],[-16,16],[-15,16.4],[50,1],[-41.5,-39,-6,-36],[22.6,-25,12.5,-13.3],[-27,-17.3],[57.5,-4],[-45,1],[34.5,14],[7.7,31,7.5,20],[-38,6]];

const svg = d3.select("body").append("svg").attr("width", W).attr("height", H);

function panel(cfg){
  const g = svg.append("g");
  const x = d3.scaleLinear().domain(cfg.xDomain).range([cfg.left, cfg.right]);
  const y = d3.scaleLinear().domain(cfg.yDomain).range([cfg.bottom, cfg.top]);
  const mid = t => t.slice(0,-1).map((v,i)=>(v+t[i+1])/2);
  const xt = cfg.xTicks, yt = cfg.yTicks;
  const dx = xt[1]-xt[0], dy = yt[1]-yt[0];
  const xMinor = [xt[0]-dx/2, ...mid(xt), xt[xt.length-1]+dx/2].filter(v=>v>cfg.xDomain[0]&&v<cfg.xDomain[1]);
  const yMinor = [yt[0]-dy/2, ...mid(yt), yt[yt.length-1]+dy/2].filter(v=>v>cfg.yDomain[0]&&v<cfg.yDomain[1]);
  const grid = g.append("g");
  xMinor.forEach(v=>grid.append("line").attr("x1",x(v)).attr("x2",x(v)).attr("y1",cfg.top).attr("y2",cfg.bottom).attr("stroke","#EBEBEB").attr("stroke-width",1.3));
  yMinor.forEach(v=>grid.append("line").attr("y1",y(v)).attr("y2",y(v)).attr("x1",cfg.left).attr("x2",cfg.right).attr("stroke","#EBEBEB").attr("stroke-width",1.3));
  xt.forEach(v=>grid.append("line").attr("x1",x(v)).attr("x2",x(v)).attr("y1",cfg.top).attr("y2",cfg.bottom).attr("stroke","#EBEBEB").attr("stroke-width",2.2));
  yt.forEach(v=>grid.append("line").attr("y1",y(v)).attr("y2",y(v)).attr("x1",cfg.left).attr("x2",cfg.right).attr("stroke","#EBEBEB").attr("stroke-width",2.2));
  g.append("line").attr("x1",x(0)).attr("x2",x(0)).attr("y1",cfg.top).attr("y2",cfg.bottom).attr("stroke","#000").attr("stroke-width",2.2).attr("stroke-dasharray","2.5,4.5");
  g.append("line").attr("y1",y(0)).attr("y2",y(0)).attr("x1",cfg.left).attr("x2",cfg.right).attr("stroke","#000").attr("stroke-width",2.2).attr("stroke-dasharray","2.5,4.5");
  if(cfg.fdr){
    g.append("line").attr("y1",y(-Math.log10(0.05))).attr("y2",y(-Math.log10(0.05))).attr("x1",cfg.left).attr("x2",cfg.right)
      .attr("stroke","#1DB81D").attr("stroke-width",2.2).attr("stroke-dasharray","12,8");
  }
  g.append("g").selectAll("circle").data(cfg.grey).join("circle")
    .attr("cx",d=>x(d[0])).attr("cy",d=>y(d[1])).attr("r",4.5).attr("fill","#000").attr("fill-opacity",0.25);
  const hi = cfg.hiName.map((n,i)=>({name:n,x:cfg.hiX[i],y:cfg.hiY[i],dir:cfg.hiDir[i],lab:cfg.lab[i]}));
  hi.forEach(d=>{
    if(d.lab && d.lab.length>2){
      g.append("line").attr("x1",x(d.x)).attr("y1",y(d.y)).attr("x2",x(d.x)+d.lab[2]).attr("y2",y(d.y)+d.lab[3])
        .attr("stroke",COL[d.dir]).attr("stroke-width",2.2);
    }
  });
  g.append("g").selectAll("circle").data(hi).join("circle")
    .attr("cx",d=>x(d.x)).attr("cy",d=>y(d.y)).attr("r",5).attr("fill",d=>COL[d.dir]);
  g.append("g").selectAll("text").data(hi.filter(d=>d.lab && d.name)).join("text")
    .attr("x",d=>x(d.x)+d.lab[0]).attr("y",d=>y(d.y)+d.lab[1]).attr("dy","0.36em")
    .attr("text-anchor","middle").attr("font-weight","bold").attr("font-size",20)
    .attr("fill",d=>COL[d.dir]).text(d=>d.name);
  g.append("rect").attr("x",cfg.left).attr("y",cfg.top).attr("width",cfg.right-cfg.left).attr("height",cfg.bottom-cfg.top)
    .attr("fill","none").attr("stroke","#333").attr("stroke-width",2.2);
  const ax = g.append("g").attr("transform",`translate(0,${cfg.bottom})`)
    .call(d3.axisBottom(x).tickValues(xt).tickFormat((d,i)=>cfg.xLabels[i]).tickSize(5).tickPadding(4));
  const ay = g.append("g").attr("transform",`translate(${cfg.left},0)`)
    .call(d3.axisLeft(y).tickValues(yt).tickFormat((d,i)=>cfg.yLabels[i]).tickSize(5).tickPadding(4));
  [ax,ay].forEach(a=>{
    a.select(".domain").remove();
    a.selectAll(".tick line").attr("stroke","#333").attr("stroke-width",2);
    a.selectAll(".tick text").attr("fill","#4D4D4D").attr("font-size",17).attr("font-family",'"Liberation Sans",Arial,sans-serif');
  });
  g.append("text").attr("x",cfg.left).attr("y",20).attr("font-size",23.5).attr("fill","#000").text(cfg.title);
  g.append("text").attr("x",(cfg.left+cfg.right)/2).attr("y",cfg.xTitleY).attr("text-anchor","middle").attr("font-size",21).attr("fill","#000").text(cfg.xTitle);
  g.append("text").attr("transform",`translate(${cfg.yTitleX},${(cfg.top+cfg.bottom)/2}) rotate(-90)`).attr("dy","0.36em")
    .attr("text-anchor","middle").attr("font-size",21).attr("fill","#000").text(cfg.yTitle);
  g.append("text").attr("x",cfg.left+cfg.letterDx).attr("y",85).attr("font-size",37).attr("font-weight","bold").attr("text-anchor","middle").text(cfg.letter);
  return {x,y,g};
}

panel({left:43,right:634,top:34,bottom:587,xDomain:[-0.997,1.487],yDomain:[-0.265,5.59],
  xTicks:logfcTicks,xLabels:logfcTickLabels,yTicks:aYTicks,yLabels:aYTickLabels,fdr:true,
  grey:aGrey.concat(aGreyCore),hiName:aHiName,hiX:aHiX,hiY:aHiY,hiDir:aHiDir,lab:aLab,
  title:"Comparison of SSc and Cont groups",xTitle:"Log2 fold\u2212change, SSc / Cont",xTitleY:632,
  yTitle:"\u2212log10 ( BH\u2212FDR )",yTitleX:11,letter:"A",letterDx:39});

panel({left:711,right:1290,top:34,bottom:583,xDomain:[-0.643,0.673],yDomain:[-0.132,2.56],
  xTicks:rhoTicks,xLabels:rhoTickLabels,yTicks:bYTicks,yLabels:bYTickLabels,fdr:true,
  grey:bGrey.concat(bGreyCore),hiName:bHiName,hiX:bHiX,hiY:bHiY,hiDir:bHiDir,lab:bLab,
  title:"Association with mRSS",xTitle:"Spearman  correlation  coefficient, \u03C1",xTitleY:627,
  yTitle:"\u2212log10 ( BH\u2212FDR )",yTitleX:663,letter:"B",letterDx:39});

const pc = panel({left:1385,right:1942,top:34,bottom:587,xDomain:[-0.996,1.485],yDomain:[-0.0532,0.0662],
  xTicks:logfcTicks,xLabels:logfcTickLabels,yTicks:cYTicks,yLabels:cYTickLabels,fdr:false,
  grey:cGrey.concat(cGreyCore),hiName:cHiName,hiX:cHiX,hiY:cHiY,hiDir:cHiDir,lab:cLab,
  title:"Associations with SSc and mRSS",xTitle:"Log2 fold\u2212change, SSc / Cont",xTitleY:632,
  yTitle:"Protein level (log2) change per one mRSS unit",yTitleX:1319,letter:"C",letterDx:37});
pc.g.append("text").attr("x",1918).attr("y",537).attr("text-anchor","end").attr("font-size",20).attr("fill","#000").text(cRho);
</script>
</body></html>
